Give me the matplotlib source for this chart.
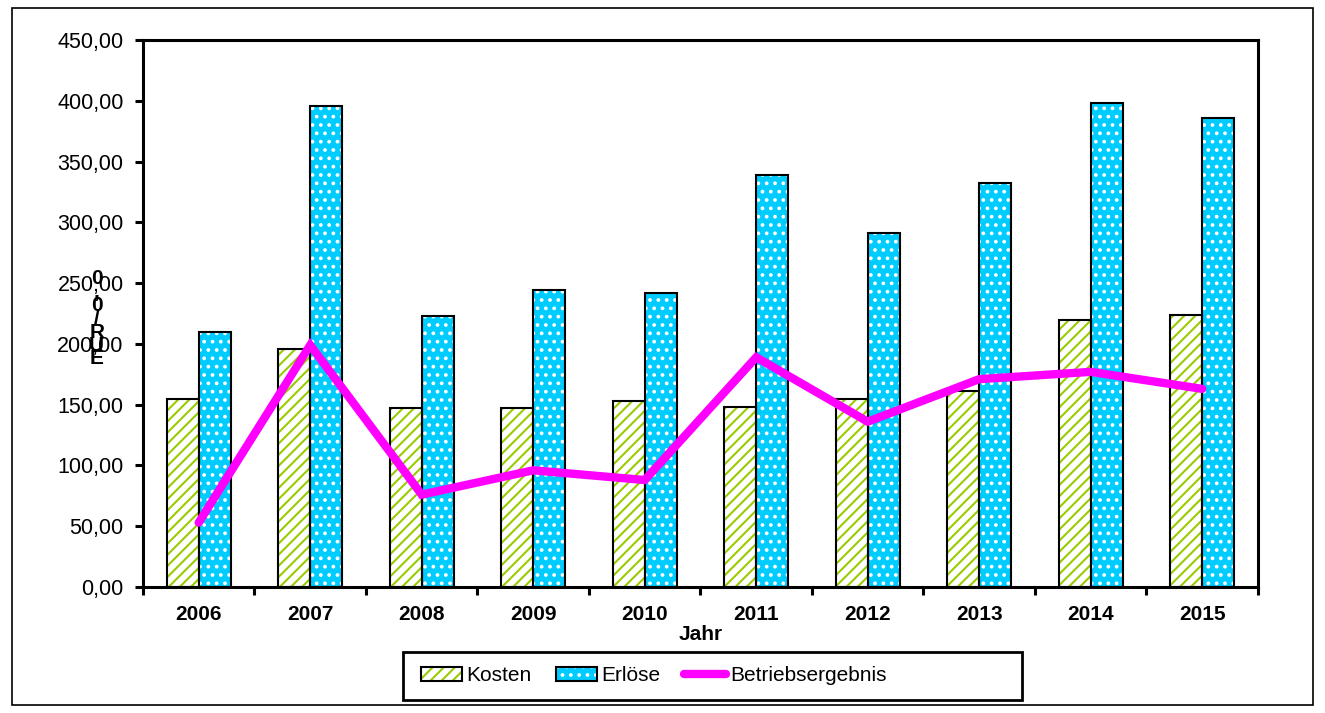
import matplotlib
matplotlib.use('Agg')
import matplotlib.pyplot as plt
from matplotlib.patches import Patch, Rectangle
from matplotlib.lines import Line2D
from matplotlib.legend_handler import HandlerTuple
import numpy as np

jahre = ['2006', '2007', '2008', '2009', '2010', '2011', '2012', '2013', '2014', '2015']
kosten = [155, 196, 147, 147, 153, 148, 155, 161, 220, 224]
erloese = [210, 396, 223, 244, 242, 339, 291, 332, 398, 386]
ergebnis = [53, 199, 76, 96, 88, 189, 136, 171, 177, 163]
yticks = [0, 50, 100, 150, 200, 250, 300, 350, 400, 450]

plt.rcParams['font.family'] = ['Liberation Sans', 'DejaVu Sans']
plt.rcParams['hatch.linewidth'] = 1.5

green = '#99cc00'
cyan = '#00ccff'
magenta = '#ff00ff'

fig = plt.figure(figsize=(13.25, 7.13), dpi=100)
ax = fig.add_axes([0.1079, 0.1767, 0.8415, 0.7672])

x = np.arange(len(jahre))
w = 0.286

# bars: hatch layer first, then black outline on top
ax.bar(x - w / 2, kosten, w, color='white', edgecolor=green, hatch='///', linewidth=0, zorder=2)
ax.bar(x - w / 2, kosten, w, fill=False, edgecolor='black', linewidth=1.5, zorder=3)
ax.bar(x + w / 2, erloese, w, color=cyan, edgecolor='white', hatch='..', linewidth=0, zorder=2)
ax.bar(x + w / 2, erloese, w, fill=False, edgecolor='black', linewidth=1.5, zorder=3)

ax.plot(x, ergebnis, color=magenta, linewidth=6, solid_capstyle='round',
        solid_joinstyle='miter', zorder=4)

ax.set_xlim(-0.5, len(jahre) - 0.5)
ax.set_ylim(0, 450)
ax.set_yticks(yticks)
ax.set_yticklabels(['%d,00' % v for v in yticks], fontsize=15.5)

ax.set_xticks(np.arange(len(jahre) + 1) - 0.5)
ax.set_xticklabels([])
ax.set_xticks(x, minor=True)
ax.set_xticklabels(jahre, minor=True, fontsize=15, fontweight='bold')
ax.tick_params(axis='x', which='minor', length=0, pad=13)
ax.tick_params(axis='both', which='major', direction='out', length=6, width=2.2)
ax.tick_params(axis='y', pad=8)

for s in ax.spines.values():
    s.set_linewidth(2.2)

ax.set_xlabel('Jahr', fontsize=15, fontweight='bold', labelpad=1)

fig.text(0.073, 0.553, '0\n,\n0\n/\nR\nU\nE', fontsize=15, fontweight='bold',
         ha='center', va='center', linespacing=0.62)

# legend box drawn separately, it is wider than its entries
fig.patches.append(Rectangle((0.3042, 0.0182), 0.4672, 0.0673, transform=fig.transFigure,
                             facecolor='white', edgecolor='black', linewidth=2, zorder=1))

h_k = (Patch(facecolor='white', edgecolor=green, hatch='///', linewidth=0),
       Patch(fill=False, edgecolor='black', linewidth=1.5))
h_e = (Patch(facecolor=cyan, edgecolor='white', hatch='..', linewidth=0),
       Patch(fill=False, edgecolor='black', linewidth=1.5))
h_b = Line2D([], [], color=magenta, linewidth=6, solid_capstyle='round')
leg = fig.legend([h_k, h_e, h_b], ['Kosten', 'Erlöse', 'Betriebsergebnis'],
                 handler_map={tuple: HandlerTuple(ndivide=1)},
                 loc='center left', bbox_to_anchor=(0.3095, 0.052), ncol=3,
                 fontsize=15, handlelength=2.0, handletextpad=0.2,
                 columnspacing=1.15, frameon=False, borderpad=0)

fig.patches.append(Rectangle((0.009, 0.011), 0.982, 0.978, transform=fig.transFigure,
                             fill=False, edgecolor='black', linewidth=1.2))

fig.savefig('out.png', dpi=100)
